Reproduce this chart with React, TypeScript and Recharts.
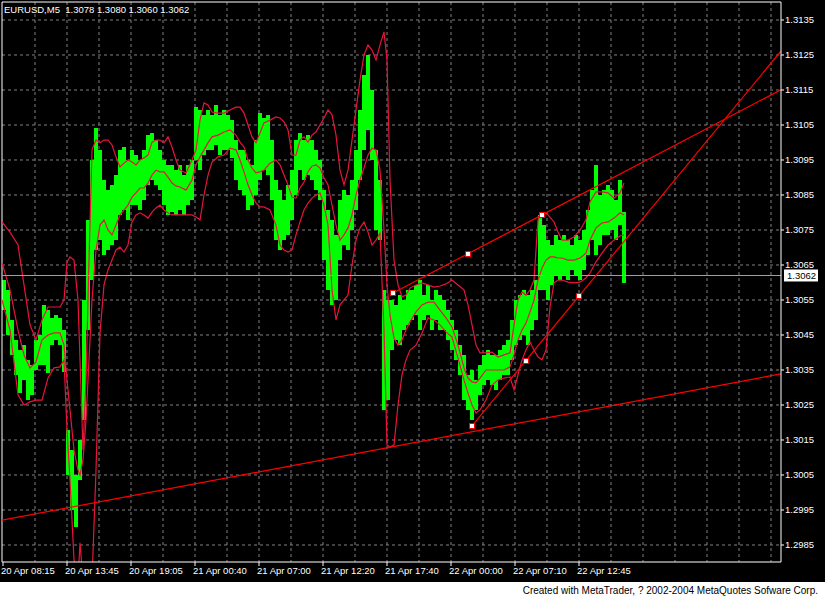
import React from 'react';
import {
  ComposedChart, Bar, Line, XAxis, YAxis, CartesianGrid,
  ReferenceLine, ReferenceDot,
} from 'recharts';

// ---------- data ----------
const SYMBOL_HEADER = 'EURUSD,M5  1.3078 1.3080 1.3060 1.3062';
const CREDIT = 'Created with MetaTrader, ? 2002-2004 MetaQuotes Sofware Corp.';
const LAST_PRICE = 1.3062;

const PRICE_TICKS = [
  1.2985, 1.2995, 1.3005, 1.3015, 1.3025, 1.3035, 1.3045, 1.3055,
  1.3065, 1.3075, 1.3085, 1.3095, 1.3105, 1.3115, 1.3125, 1.3135,
];
const PRICE_MIN = 1.298014;
const PRICE_MAX = 1.314014;
const BAR_FIRST = 2;
const BAR_LAST = 781;

const TIME_TICK_BARS = [3, 67, 131, 195, 259, 323, 387, 451, 515, 579];
const TIME_LABELS = [
  '20 Apr 08:15', '20 Apr 13:45', '20 Apr 19:05', '21 Apr 00:40', '21 Apr 07:00',
  '21 Apr 12:20', '21 Apr 17:40', '22 Apr 00:00', '22 Apr 07:10', '22 Apr 12:45',
];
const GRID_BARS = [35, 67, 99, 131, 163, 195, 227, 259, 291, 323, 355, 387, 419, 451,
  483, 515, 547, 579, 611, 643, 675, 707, 739, 771];

// sampled bars (every 4th bar), high / low
const BAR_HIGH = [
  1.30607, 1.30579, 1.30493, 1.30436, 1.30407, 1.30421, 1.30379, 1.30364, 1.30436, 1.30450,
  1.30536, 1.30521, 1.30499, 1.30507, 1.30499, 1.30464, 1.30179, 1.30121, 1.30050, 1.30150,
  1.30550, 1.30779, 1.30950, 1.31041, 1.30979, 1.30893, 1.30864, 1.30879, 1.30907, 1.30979,
  1.30987, 1.30950, 1.30979, 1.30964, 1.30950, 1.30979, 1.31021, 1.31027, 1.31007, 1.30979,
  1.30950, 1.30936, 1.30936, 1.30921, 1.30936, 1.30907, 1.30936, 1.30950, 1.31101, 1.31093,
  1.31079, 1.31093, 1.31079, 1.31107, 1.31079, 1.31093, 1.31079, 1.31064, 1.31007, 1.30979,
  1.30979, 1.30950, 1.30936, 1.31007, 1.31084, 1.31070, 1.31079, 1.31007, 1.30893, 1.30864,
  1.30836, 1.30879, 1.30921, 1.31007, 1.31027, 1.31007, 1.31021, 1.31007, 1.30979, 1.30950,
  1.30864, 1.30807, 1.30779, 1.30736, 1.30836, 1.30864, 1.30850, 1.30893, 1.30979, 1.31093,
  1.31193, 1.31250, 1.31150, 1.30979, 1.30893, 1.30579, 1.30550, 1.30550, 1.30536, 1.30564,
  1.30550, 1.30579, 1.30579, 1.30593, 1.30607, 1.30564, 1.30593, 1.30550, 1.30579, 1.30564,
  1.30550, 1.30521, 1.30493, 1.30464, 1.30421, 1.30393, 1.30336, 1.30350, 1.30321, 1.30364,
  1.30393, 1.30407, 1.30393, 1.30393, 1.30407, 1.30421, 1.30436, 1.30493, 1.30550, 1.30564,
  1.30579, 1.30564, 1.30579, 1.30607, 1.30793, 1.30764, 1.30721, 1.30707, 1.30736, 1.30721,
  1.30736, 1.30721, 1.30707, 1.30736, 1.30721, 1.30750, 1.30807, 1.30864, 1.30936, 1.30850,
  1.30864, 1.30879, 1.30864, 1.30836, 1.30893, 1.30801,
];
const BAR_LOW = [
  1.30521, 1.30450, 1.30393, 1.30336, 1.30284, 1.30321, 1.30264, 1.30279, 1.30350, 1.30364,
  1.30364, 1.30341, 1.30421, 1.30436, 1.30421, 1.30344, 1.30050, 1.29950, 1.29901, 1.30036,
  1.30207, 1.30464, 1.30607, 1.30693, 1.30721, 1.30679, 1.30693, 1.30707, 1.30721, 1.30793,
  1.30807, 1.30779, 1.30821, 1.30821, 1.30807, 1.30836, 1.30879, 1.30893, 1.30879, 1.30864,
  1.30821, 1.30793, 1.30801, 1.30793, 1.30807, 1.30793, 1.30821, 1.30836, 1.30950, 1.30921,
  1.30964, 1.30979, 1.30979, 1.30993, 1.30964, 1.30979, 1.30979, 1.30956, 1.30893, 1.30864,
  1.30850, 1.30807, 1.30821, 1.30850, 1.30893, 1.30921, 1.30907, 1.30836, 1.30721, 1.30693,
  1.30721, 1.30736, 1.30779, 1.30850, 1.30921, 1.30893, 1.30907, 1.30893, 1.30864, 1.30836,
  1.30664, 1.30579, 1.30536, 1.30550, 1.30664, 1.30707, 1.30693, 1.30750, 1.30807, 1.30893,
  1.30979, 1.31036, 1.30950, 1.30750, 1.30721, 1.30236, 1.30264, 1.30407, 1.30436, 1.30421,
  1.30464, 1.30479, 1.30493, 1.30507, 1.30464, 1.30493, 1.30507, 1.30464, 1.30493, 1.30464,
  1.30464, 1.30436, 1.30407, 1.30379, 1.30336, 1.30264, 1.30236, 1.30207, 1.30236, 1.30279,
  1.30307, 1.30321, 1.30307, 1.30293, 1.30321, 1.30336, 1.30336, 1.30379, 1.30421, 1.30436,
  1.30450, 1.30421, 1.30464, 1.30493, 1.30579, 1.30579, 1.30550, 1.30593, 1.30621, 1.30607,
  1.30621, 1.30607, 1.30636, 1.30621, 1.30607, 1.30636, 1.30679, 1.30721, 1.30679, 1.30707,
  1.30736, 1.30736, 1.30750, 1.30721, 1.30764, 1.30599,
];

// Bollinger bands, sampled
const BAND_BARS = [
  2, 10, 18, 24, 30, 36, 42, 48, 54, 60, 64, 67, 70, 74, 78, 80, 83, 86, 89, 92,
  96, 100, 104, 108, 112, 116, 120, 124, 128, 132, 136, 140, 144, 148, 152, 156, 160, 164, 168, 172,
  176, 180, 186, 192, 196, 200, 204, 208, 212, 218, 224, 230, 236, 240, 244, 248, 252, 256, 260, 264,
  270, 276, 280, 284, 288, 292, 296, 300, 304, 308, 312, 316, 320, 324, 328, 332, 336, 340, 344, 348,
  352, 356, 360, 364, 368, 372, 376, 380, 384, 387, 390, 394, 398, 402, 406, 410, 416, 422, 428, 434,
  440, 446, 452, 458, 464, 468, 472, 476, 480, 486, 492, 498, 504, 510, 514, 518, 522, 526, 530, 534,
  538, 542, 546, 550, 554, 558, 562, 568, 574, 580, 586, 590, 596, 602, 608, 614, 620, 624,
];
const BAND_UPPER = [
  1.30773, 1.30744, 1.30707, 1.30593, 1.30479, 1.30436, 1.30493, 1.30530, 1.30530, 1.30530,
  1.30550, 1.30659, 1.30673, 1.30664, 1.30550, 1.30379, 1.30121, 1.30321, 1.30664, 1.30979,
  1.31007, 1.30999, 1.31007, 1.31007, 1.30993, 1.30959, 1.30930, 1.30941, 1.30950, 1.30944,
  1.30936, 1.30950, 1.30956, 1.30964, 1.31001, 1.31007, 1.31007, 1.30999, 1.31016, 1.30987,
  1.30950, 1.30921, 1.30913, 1.30950, 1.30979, 1.31064, 1.31113, 1.31107, 1.31087, 1.31084,
  1.31084, 1.31093, 1.31101, 1.31101, 1.31084, 1.31050, 1.31016, 1.30999, 1.31027, 1.31056,
  1.31064, 1.31073, 1.31070, 1.31059, 1.31036, 1.30964, 1.30964, 1.31007, 1.31016, 1.31001,
  1.31021, 1.31030, 1.31050, 1.31070, 1.31093, 1.31079, 1.31021, 1.30921, 1.30879, 1.30921,
  1.31007, 1.31093, 1.31179, 1.31250, 1.31279, 1.31264, 1.31236, 1.31279, 1.31316, 1.31236,
  1.30893, 1.30664, 1.30593, 1.30559, 1.30564, 1.30584, 1.30593, 1.30599, 1.30593, 1.30587,
  1.30590, 1.30596, 1.30607, 1.30593, 1.30579, 1.30536, 1.30479, 1.30421, 1.30399, 1.30399,
  1.30401, 1.30387, 1.30393, 1.30399, 1.30479, 1.30550, 1.30573, 1.30564, 1.30579, 1.30607,
  1.30779, 1.30799, 1.30799, 1.30787, 1.30773, 1.30744, 1.30721, 1.30721, 1.30730, 1.30750,
  1.30779, 1.30830, 1.30859, 1.30859, 1.30856, 1.30841, 1.30856, 1.30884,
];
const BAND_MIDDLE = [
  1.30656, 1.30579, 1.30464, 1.30393, 1.30356, 1.30373, 1.30436, 1.30450, 1.30456, 1.30456,
  1.30421, 1.30321, 1.30236, 1.30121, 1.30064, 1.30050, 1.30093, 1.30207, 1.30379, 1.30550,
  1.30693, 1.30764, 1.30779, 1.30750, 1.30736, 1.30764, 1.30793, 1.30807, 1.30821, 1.30844,
  1.30856, 1.30870, 1.30870, 1.30884, 1.30907, 1.30921, 1.30916, 1.30916, 1.30901, 1.30884,
  1.30876, 1.30873, 1.30864, 1.30893, 1.30936, 1.30959, 1.30979, 1.30999, 1.31016, 1.31021,
  1.31030, 1.31036, 1.31021, 1.31001, 1.30987, 1.30950, 1.30927, 1.30913, 1.30916, 1.30921,
  1.30941, 1.30950, 1.30936, 1.30907, 1.30879, 1.30844, 1.30841, 1.30870, 1.30887, 1.30916,
  1.30933, 1.30936, 1.30927, 1.30899, 1.30879, 1.30821, 1.30764, 1.30721, 1.30736, 1.30756,
  1.30793, 1.30850, 1.30893, 1.30927, 1.30964, 1.30984, 1.30979, 1.30921, 1.30750, 1.30593,
  1.30507, 1.30441, 1.30421, 1.30436, 1.30464, 1.30487, 1.30516, 1.30536, 1.30544, 1.30544,
  1.30521, 1.30499, 1.30473, 1.30421, 1.30356, 1.30327, 1.30316, 1.30313, 1.30327, 1.30350,
  1.30350, 1.30350, 1.30350, 1.30359, 1.30393, 1.30436, 1.30464, 1.30484, 1.30516, 1.30550,
  1.30607, 1.30641, 1.30664, 1.30673, 1.30673, 1.30670, 1.30670, 1.30664, 1.30664, 1.30670,
  1.30684, 1.30721, 1.30756, 1.30770, 1.30773, 1.30784, 1.30799, 1.30793,
];
const BAND_LOWER = [
  1.30550, 1.30464, 1.30279, 1.30250, 1.30259, 1.30264, 1.30264, 1.30327, 1.30356, 1.30359,
  1.30379, 1.30179, 1.30036, 1.29807, 1.29750, 1.29856, 1.29750, 1.29693, 1.29693, 1.29750,
  1.30064, 1.30456, 1.30593, 1.30636, 1.30664, 1.30693, 1.30701, 1.30687, 1.30707, 1.30773,
  1.30793, 1.30799, 1.30793, 1.30784, 1.30801, 1.30813, 1.30821, 1.30807, 1.30799, 1.30793,
  1.30793, 1.30793, 1.30793, 1.30793, 1.30787, 1.30779, 1.30850, 1.30907, 1.30944, 1.30959,
  1.30964, 1.30984, 1.30979, 1.30950, 1.30916, 1.30879, 1.30850, 1.30827, 1.30816, 1.30816,
  1.30807, 1.30764, 1.30707, 1.30693, 1.30687, 1.30693, 1.30736, 1.30773, 1.30807, 1.30827,
  1.30841, 1.30850, 1.30856, 1.30821, 1.30764, 1.30579, 1.30493, 1.30536, 1.30550, 1.30564,
  1.30650, 1.30721, 1.30756, 1.30773, 1.30744, 1.30707, 1.30721, 1.30741, 1.30464, 1.30136,
  1.30130, 1.30136, 1.30250, 1.30336, 1.30379, 1.30407, 1.30421, 1.30456, 1.30499, 1.30493,
  1.30479, 1.30459, 1.30444, 1.30384, 1.30321, 1.30284, 1.30250, 1.30227, 1.30236, 1.30264,
  1.30307, 1.30321, 1.30327, 1.30330, 1.30293, 1.30336, 1.30379, 1.30407, 1.30430, 1.30407,
  1.30387, 1.30379, 1.30407, 1.30530, 1.30599, 1.30607, 1.30607, 1.30601, 1.30599, 1.30601,
  1.30613, 1.30627, 1.30659, 1.30684, 1.30707, 1.30721, 1.30733, 1.30736,
];

// trend lines: [bar, price] anchors
const CHANNEL_TOP = [[393, 1.30570], [542, 1.30793]];
const CHANNEL_BOTTOM = [[472, 1.30190], [579, 1.30561]];
const SUPPORT_LINE = [[2, 1.29921], [781, 1.30339]];

// ---------- styling ----------
const FONT = '"Liberation Sans", Arial, sans-serif';
const GREEN = '#00ff00';
const BAND = '#e8143c';
const TREND = '#ff0000';
const BAR_PIXELS = 4;

const barRows = BAR_HIGH.map((h, i) => ({ bar: 4 + 4 * i, range: [BAR_LOW[i], h] }));
const bandRows = BAND_BARS.map((b, i) => ({
  bar: b, upper: BAND_UPPER[i], middle: BAND_MIDDLE[i], lower: BAND_LOWER[i],
}));

const extendRay = (pts: number[][]) => {
  const [[x1, y1], [x2, y2]] = pts;
  const slope = (y2 - y1) / (x2 - x1);
  return [{ x: x1, y: y1 }, { x: BAR_LAST, y: y1 + slope * (BAR_LAST - x1) }];
};
const midPoint = (pts: number[][]) => [(pts[0][0] + pts[1][0]) / 2, (pts[0][1] + pts[1][1]) / 2];

const XTick = (props: any) => {
  const { x, y, payload } = props;
  const idx = TIME_TICK_BARS.indexOf(payload.value);
  return (
    <text x={x - 2} y={y} dy="0.71em" textAnchor="start" fill="#fff" fontSize={9.5} fontFamily={FONT}>
      {idx >= 0 ? TIME_LABELS[idx] : ''}
    </text>
  );
};

const PriceTag = (props: any) => {
  const vb = props.viewBox || {};
  const x = (vb.x || 0) + (vb.width || 0) + 3;
  const y = vb.y || 0;
  return (
    <g>
      <rect x={x} y={y - 6} width={34} height={12} fill="#fff" />
      <text x={x + 3} y={y + 4} fill="#000" fontSize={9.5} fontFamily={FONT}>{LAST_PRICE.toFixed(4)}</text>
    </g>
  );
};

const Marker = (props: any) => {
  const { cx, cy } = props;
  return <rect x={Math.round(cx) - 2.5} y={Math.round(cy) - 2.5} width={5} height={5} fill="#fff" stroke={TREND} strokeWidth={1} />;
};

const renderBar = (props: any) => {
  const x = Number(props.x);
  const y = Number(props.y);
  const w = Number(props.width);
  const h = Number(props.height);
  if (!isFinite(x) || !isFinite(y) || !isFinite(w) || !isFinite(h)) return <g />;
  const center = x + w / 2;
  const top = Math.min(y, y + h);
  return (
    <rect x={Math.round(center - BAR_PIXELS / 2)} y={Math.round(top)} width={BAR_PIXELS}
      height={Math.max(1, Math.round(Math.abs(h)))} fill={GREEN} />
  );
};

export default function App() {
  const markers = [
    CHANNEL_TOP[0], midPoint(CHANNEL_TOP), CHANNEL_TOP[1],
    CHANNEL_BOTTOM[0], midPoint(CHANNEL_BOTTOM), CHANNEL_BOTTOM[1],
  ];
  return (
    <div style={{ position: 'absolute', left: 0, top: 0, width: 825, height: 600, background: '#fff', fontFamily: FONT }}>
      <div style={{ position: 'relative', width: 825, height: 582, background: '#000' }}>
        <ComposedChart width={825} height={582} data={barRows} margin={{ top: 2, right: 0, bottom: 0, left: 2 }}>
          <CartesianGrid stroke="#808080" strokeDasharray="3 3" verticalValues={GRID_BARS} horizontalValues={PRICE_TICKS} />
          <XAxis
            type="number" dataKey="bar" domain={[BAR_FIRST, BAR_LAST]} allowDataOverflow
            ticks={TIME_TICK_BARS} interval={0} height={20} tickSize={4} tickMargin={1}
            axisLine={{ stroke: '#fff' }} tickLine={{ stroke: '#fff' }} tick={<XTick />}
          />
          <YAxis
            orientation="right" type="number" domain={[PRICE_MIN, PRICE_MAX]} allowDataOverflow
            ticks={PRICE_TICKS} interval={0} width={44} tickSize={3} tickMargin={1}
            axisLine={{ stroke: '#fff' }} tickLine={{ stroke: '#fff' }}
            tick={{ fill: '#fff', fontSize: 9.5, fontFamily: FONT }}
            tickFormatter={(v: number) => v.toFixed(4)}
          />
          <ReferenceLine x={BAR_FIRST} stroke="#fff" />
          <ReferenceLine y={PRICE_MAX} stroke="#fff" />
          <Bar dataKey="range" fill={GREEN} barSize={4} shape={renderBar} isAnimationActive={false} />
          <Line data={bandRows} dataKey="upper" stroke={BAND} strokeWidth={1.2} dot={false} type="linear" isAnimationActive={false} />
          <Line data={bandRows} dataKey="middle" stroke={BAND} strokeWidth={1.2} dot={false} type="linear" isAnimationActive={false} />
          <Line data={bandRows} dataKey="lower" stroke={BAND} strokeWidth={1.2} dot={false} type="linear" isAnimationActive={false} />
          <ReferenceLine y={LAST_PRICE} stroke="#a0a0a0" label={<PriceTag />} />
          <ReferenceLine segment={[{ x: SUPPORT_LINE[0][0], y: SUPPORT_LINE[0][1] }, { x: SUPPORT_LINE[1][0], y: SUPPORT_LINE[1][1] }]} stroke={TREND} strokeWidth={1.2} ifOverflow="hidden" />
          <ReferenceLine segment={extendRay(CHANNEL_TOP)} stroke={TREND} strokeWidth={1.2} ifOverflow="hidden" />
          <ReferenceLine segment={extendRay(CHANNEL_BOTTOM)} stroke={TREND} strokeWidth={1.2} ifOverflow="hidden" />
          {markers.map((m, i) => (
            <ReferenceDot key={i} x={m[0]} y={m[1]} r={3} shape={<Marker />} />
          ))}
        </ComposedChart>
        <div style={{ position: 'absolute', left: 4, top: 4, color: '#fff', fontSize: 9.5, lineHeight: '12px', whiteSpace: 'pre', fontFamily: FONT }}>
          {SYMBOL_HEADER}
        </div>
      </div>
      <div style={{ position: 'absolute', right: 7, top: 585, color: '#000', fontSize: 10, lineHeight: '12px', whiteSpace: 'pre', fontFamily: FONT }}>
        {CREDIT}
      </div>
    </div>
  );
}
